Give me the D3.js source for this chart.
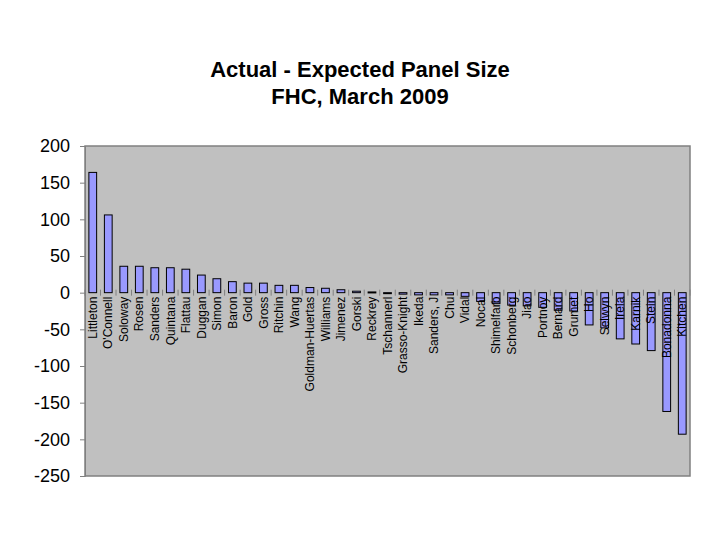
<!DOCTYPE html>
<html>
<head>
<meta charset="utf-8">
<script src="https://cdn.jsdelivr.net/npm/d3@7"></script>
<style>
  body { margin: 0; background: #fff; }
  text { font-family: "Liberation Sans", Arial, sans-serif; }
</style>
</head>
<body>
<script>
// physicians, in chart order
var names = ["Littleton", "O'Connell", "Soloway", "Rosen", "Sanders", "Quintana", "Flattau",
  "Duggan", "Simon", "Baron", "Gold", "Gross", "Ritchin", "Wang", "Goldman-Huertas",
  "Williams", "Jimenez", "Gorski", "Reckrey", "Tschannerl", "Grasso-Knight", "Ikeda",
  "Sanders, J", "Chu", "Vidal", "Nocal", "Shimelfarb", "Schonberg", "Jiao", "Portnoy",
  "Bernard", "Grumet", "Ho", "Selwyn", "Irela", "Karnik", "Stein", "Bonadonna", "Kitchen"];

// actual minus expected panel size
var diffs = [164, 106, 36, 36, 34, 34, 32, 24, 19, 15, 13, 13, 10, 10, 7, 6, 4, 2, 1, -1,
  -2, -3, -3, -3, -5, -12, -15, -17, -18, -20, -24, -25, -44, -48, -63, -70, -79, -162, -193];

var yTicks = [200, 150, 100, 50, 0, -50, -100, -150, -200, -250];
var titleLines = ["Actual - Expected Panel Size", "FHC, March 2009"];

var W = 720, H = 540;
var plotL = 85, plotR = 690, plotT = 146, plotB = 476;

var svg = d3.select('body').append('svg')
  .attr('width', W)
  .attr('height', H);

var x = d3.scaleBand().domain(names).range([plotL, plotR]).paddingInner(0.5).paddingOuter(0.25);
var y = d3.scaleLinear().domain([-250, 200]).range([plotB, plotT]);

// title
svg.selectAll('.title').data(titleLines).enter().append('text')
  .attr('class', 'title')
  .attr('x', 360)
  .attr('y', function (d, i) { return 77 + i * 27; })
  .attr('text-anchor', 'middle')
  .attr('font-size', 22)
  .attr('font-weight', 'bold')
  .text(function (d) { return d; });

// plot area
svg.append('rect')
  .attr('x', plotL).attr('y', plotT)
  .attr('width', plotR - plotL).attr('height', plotB - plotT)
  .attr('fill', '#c0c0c0')
  .attr('stroke', '#808080')
  .attr('stroke-width', 1.5);

// y axis
var yAxis = d3.axisLeft(y).tickValues(yTicks).tickSize(5).tickPadding(10)
  .tickFormat(function (d) { return String(d); });
var gy = svg.append('g').attr('transform', 'translate(' + plotL + ',0)').call(yAxis);
gy.select('.domain').attr('stroke', '#808080');
gy.selectAll('.tick line').attr('stroke', '#808080');
gy.selectAll('.tick text')
  .attr('font-size', 18)
  .attr('font-family', '"Liberation Sans", Arial, sans-serif')
  .attr('fill', '#000');

// category tick marks at zero line
var step = x.step();
svg.selectAll('.ctick').data(d3.range(names.length + 1)).enter().append('line')
  .attr('class', 'ctick')
  .attr('x1', function (i) { return plotL + i * step; })
  .attr('x2', function (i) { return plotL + i * step; })
  .attr('y1', y(0) - 3)
  .attr('y2', y(0) + 3)
  .attr('stroke', '#808080')
  .attr('stroke-width', 1);

// bars
svg.selectAll('.bar').data(diffs).enter().append('rect')
  .attr('class', 'bar')
  .attr('x', function (d, i) { return x(names[i]); })
  .attr('y', function (d) { return y(Math.max(0, d)); })
  .attr('width', x.bandwidth())
  .attr('height', function (d) { return Math.max(1, Math.abs(y(d) - y(0))); })
  .attr('fill', '#9999ff')
  .attr('stroke', '#000')
  .attr('stroke-width', 1);

// category labels, rotated
svg.selectAll('.clabel').data(names).enter().append('text')
  .attr('class', 'clabel')
  .attr('transform', function (d) {
    return 'translate(' + (x(d) + x.bandwidth() / 2) + ',' + (y(0) + 4) + ') rotate(-90)';
  })
  .attr('dy', '0.35em')
  .attr('text-anchor', 'end')
  .attr('font-size', 12)
  .text(function (d) { return d; });
</script>
</body>
</html>
